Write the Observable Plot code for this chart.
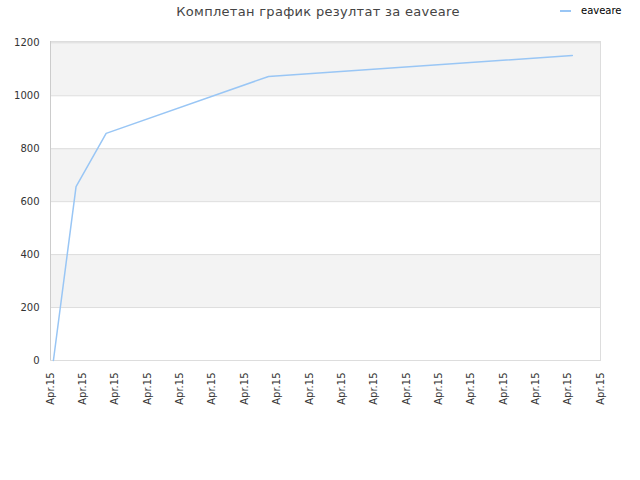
<!DOCTYPE html>
<html>
<head>
<meta charset="utf-8">
<script src="https://cdn.jsdelivr.net/npm/d3@7"></script>
<script src="https://cdn.jsdelivr.net/npm/@observablehq/plot@0.6"></script>
<style>
  html, body { margin: 0; padding: 0; background: #fff; }
  #wrap { position: relative; width: 640px; height: 480px; font-family: "DejaVu Sans", sans-serif; }
  #title { position: absolute; left: 0; width: 636px; top: 4px; text-align: center; font-size: 13px; color: #444; letter-spacing: 0.3px; }
  #legend { position: absolute; left: 560px; top: 5px; font-size: 10px; color: #000; display: flex; align-items: center; }
  #legend .sw { width: 11px; height: 2px; background: #99c6f5; margin-right: 10px; }
  svg { position: absolute; left: 0; top: 0; }
</style>
</head>
<body>
<div id="wrap">
  <div id="title">Комплетан график резултат за eaveare</div>
  <div id="legend"><span class="sw"></span><span>eaveare</span></div>
</div>
<script>
const seriesName = "eaveare";
const xPos = [0.09, 0.79, 1.72, 6.74, 16.13];
const values = [0, 657, 858, 1073, 1152];
const xTicks = [0, 1, 2, 3, 4, 5, 6, 7, 8, 9, 10, 11, 12, 13, 14, 15, 16, 17];
const xTickLabels = ["Apr.15","Apr.15","Apr.15","Apr.15","Apr.15","Apr.15","Apr.15","Apr.15","Apr.15","Apr.15","Apr.15","Apr.15","Apr.15","Apr.15","Apr.15","Apr.15","Apr.15","Apr.15"];
const yTicks = [0, 200, 400, 600, 800, 1000, 1200];
const bandLow = [200, 600, 1000];
const bandHigh = [400, 800, 1205];

const points = xPos.map((x, i) => ({x, value: values[i]}));
const bands = bandLow.map((lo, i) => ({lo, hi: bandHigh[i]}));

const chart = Plot.plot({
  width: 640,
  height: 480,
  marginLeft: 50,
  marginRight: 40,
  marginTop: 41,
  marginBottom: 120,
  style: {fontFamily: "DejaVu Sans, sans-serif", fontSize: "10px", color: "#333", background: "transparent"},
  x: {domain: [0, 17], ticks: xTicks, tickFormat: (d, i) => xTickLabels[i], tickRotate: -90, tickSize: 0, tickPadding: 12, label: null},
  y: {domain: [0, 1205], ticks: yTicks, tickFormat: d => String(d), tickSize: 0, tickPadding: 11, label: null},
  marks: [
    Plot.rect(bands, {y1: "lo", y2: "hi", fill: "#f3f3f3"}),
    Plot.ruleY(yTicks, {stroke: "#dddddd", strokeWidth: 1}),
    Plot.frame({stroke: "#dddddd"}),
    Plot.ruleX([0], {stroke: "#cccccc"}),
    Plot.line(points, {x: "x", y: "value", stroke: "#99c6f5", strokeWidth: 1.5})
  ]
});
document.getElementById("wrap").prepend(chart);
</script>
</body>
</html>
